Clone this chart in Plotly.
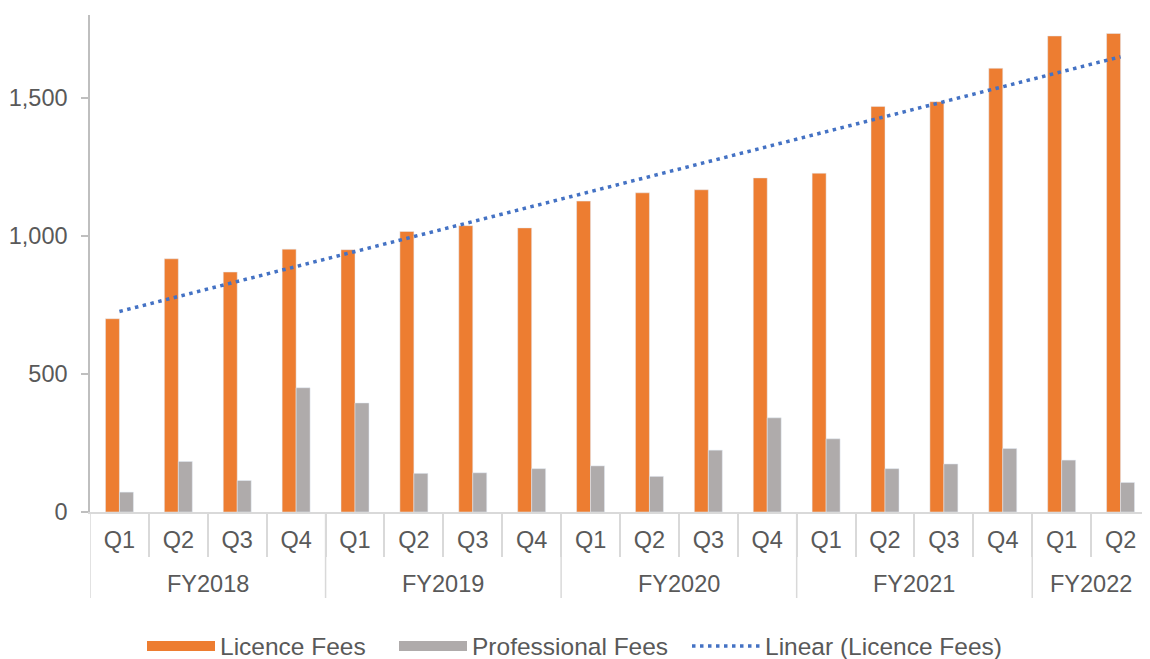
import numpy as np
import plotly.graph_objects as go

fiscal_years = ["FY2018"] * 4 + ["FY2019"] * 4 + ["FY2020"] * 4 + ["FY2021"] * 4 + ["FY2022"] * 2
quarters = ["Q1", "Q2", "Q3", "Q4"] * 4 + ["Q1", "Q2"]
licence_fees = [700, 917, 869, 952, 950, 1016, 1037, 1029, 1126, 1156, 1167, 1210,
                1227, 1469, 1486, 1607, 1724, 1733]
professional_fees = [72, 183, 114, 450, 395, 140, 142, 157, 167, 129, 224, 341,
                     265, 157, 174, 230, 188, 107]
y_ticks = [0, 500, 1000, 1500]

ORANGE = "#ED7D31"
GREY = "#AFABAB"
BLUE = "#4472C4"
TEXT = "#595959"
AXIS_LIGHT = "#D9D9D9"
FONT = "Liberation Sans, Arial, sans-serif"
FS = 23.5
FS_LEG = 24.5

n = len(quarters)
pos = list(range(n))

# linear trend of licence fees (least squares on period index)
slope, intercept = np.polyfit(np.arange(1, n + 1), licence_fees, 1)
trend = (slope * np.arange(1, n + 1) + intercept).tolist()

fig = go.Figure()
fig.add_trace(go.Bar(x=pos, y=licence_fees, name="Licence Fees", marker_color=ORANGE,
                     showlegend=False))
fig.add_trace(go.Bar(x=pos, y=professional_fees, name="Professional Fees", marker_color=GREY,
                     showlegend=False))
fig.add_trace(go.Scatter(x=pos, y=trend, mode="lines", name="Linear (Licence Fees)",
                         line=dict(color=BLUE, width=3.5, dash="3.5px,4.5px"),
                         showlegend=False, hoverinfo="skip"))

# legend entries (wide swatches like the reference), one legend per entry
fig.add_trace(go.Scatter(x=[None], y=[None], mode="lines", name="Licence Fees",
                         line=dict(color=ORANGE, width=13), legend="legend"))
fig.add_trace(go.Scatter(x=[None], y=[None], mode="lines", name="Professional Fees",
                         line=dict(color=GREY, width=13), legend="legend2"))
fig.add_trace(go.Scatter(x=[None], y=[None], mode="lines", name="Linear (Licence Fees)",
                         line=dict(color=BLUE, width=3.5, dash="3.5px,4.5px"), legend="legend3"))

W, H = 1142, 651
ML, MT, MB = 82, 7, 147
plot_h = H - MT - MB

def leg(px_left):
    return dict(orientation="h", xref="container", x=px_left / W, xanchor="left",
                yref="container", y=13 / H, yanchor="middle",
                itemwidth=68, font=dict(size=FS_LEG, color=TEXT), bgcolor="rgba(0,0,0,0)")

fig.update_layout(
    width=W, height=H,
    margin=dict(l=ML, r=0, t=MT, b=MB),
    plot_bgcolor="white", paper_bgcolor="white",
    font=dict(family=FONT, size=FS, color=TEXT),
    barmode="group", bargap=0.525, bargroupgap=0,
    legend=leg(134), legend2=leg(386), legend3=leg(679),
    hovermode=False,
)

# year group labels and dividers, derived from the fiscal_years list
years_unique = list(dict.fromkeys(fiscal_years))
for yname in years_unique:
    members = [i for i, v in enumerate(fiscal_years) if v == yname]
    fig.add_annotation(x=float(np.mean(members)), y=-72 / plot_h, xref="x", yref="paper",
                       text=yname, showarrow=False, yanchor="middle",
                       font=dict(size=FS, color=TEXT, family=FONT))
boundaries = [-0.5] + [i - 0.5 for i in range(1, n) if fiscal_years[i] != fiscal_years[i - 1]]
for b in boundaries:
    fig.add_shape(type="line", xref="x", yref="paper", x0=b, x1=b, y0=0, y1=-86 / plot_h,
                  line=dict(color=AXIS_LIGHT, width=1.5), layer="below")

fig.update_yaxes(range=[0, 1800], tickvals=y_ticks, tickformat=",",
                 showgrid=False, zeroline=False,
                 showline=True, linecolor="#BFBFBF", linewidth=1.5,
                 ticks="outside", ticklen=7, tickcolor="#BFBFBF", tickwidth=1.5,
                 ticklabelstandoff=9)
fig.update_xaxes(range=[-0.5, n - 0.5], tickvals=pos, ticktext=quarters,
                 showgrid=False, zeroline=False,
                 showline=True, linecolor=AXIS_LIGHT, linewidth=1.5,
                 ticks="",
                 minor=dict(tickvals=[i + 0.5 for i in range(n - 1)], ticks="outside",
                            ticklen=43, tickcolor=AXIS_LIGHT, tickwidth=1.5),
                 ticklabelstandoff=6)

fig.write_html("out.html")
